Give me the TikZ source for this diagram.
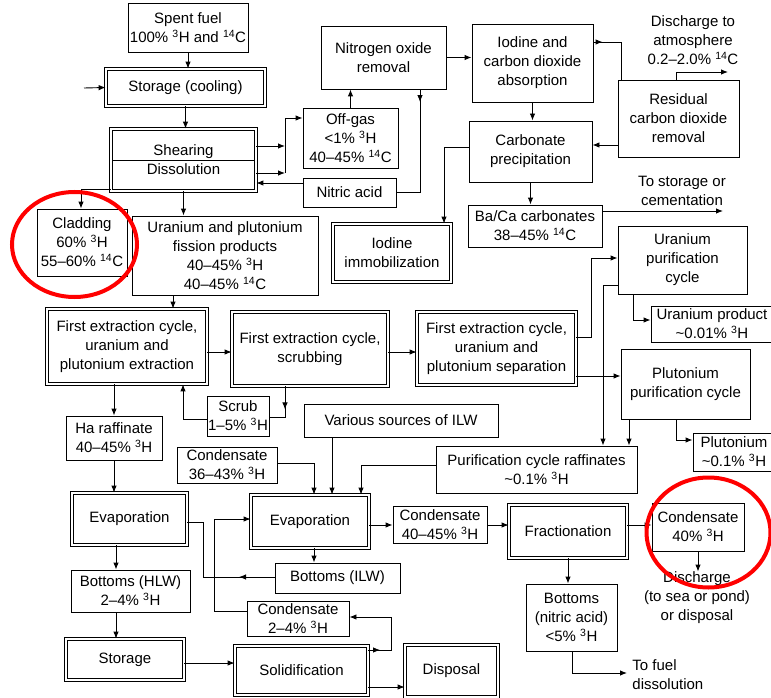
\documentclass[tikz,border=0pt]{standalone}
\usepackage{fontspec}
\setmainfont{Liberation Sans}
\usetikzlibrary{arrows.meta,decorations.markings}
\newcommand{\triH}{\textsuperscript{3}H}
\newcommand{\carbC}{\textsuperscript{14}C}

\begin{document}
\begin{tikzpicture}[x=1pt, y=-1pt, line width=0.9pt,
	every node/.style={font=\fontsize{15}{19}\selectfont, inner sep=0pt, align=center},
	box/.style={draw},
	dbox/.style={draw, double, double distance=2.2pt, line width=0.8pt},
	arr/.style={-{Latex[length=7pt,width=5.5pt]}},
	midtip/.style={postaction={decorate}, decoration={markings, mark=at position #1 with {\arrow{Latex[length=7pt,width=5.5pt]}}}},
	ring/.style={red, line width=4pt}]
	\useasboundingbox (0,0) rectangle (771,698);
	% boxes
	\node[box, minimum width=120pt, minimum height=49pt] (fuel) at (188,27.5) {Spent fuel\\100\% \triH{} and \carbC};
	\node[dbox, minimum width=159pt, minimum height=37pt] (storc) at (185.5,87.5) {Storage (cooling)};
	\node[dbox, minimum width=145pt, minimum height=62pt] (shear) at (183.5,160) {Shearing\\Dissolution};
	\node[box, minimum width=95pt, minimum height=60pt] (offgas) at (350.5,138) {Off-gas\\<1\% \triH\\40--45\% \carbC};
	\node[box, minimum width=93pt, minimum height=29pt] (nitric) at (349.5,192.5) {Nitric acid};
	\node[box, minimum width=125pt, minimum height=63pt] (nox) at (383.5,57.5) {Nitrogen oxide\\removal};
	\node[box, minimum width=121pt, minimum height=78pt] (iodabs) at (532.5,63) {Iodine and\\carbon dioxide\\absorption};
	\node[box, minimum width=123pt, minimum height=61pt] (carb) at (530.5,151.5) {Carbonate\\precipitation};
	\node[box, minimum width=121pt, minimum height=77pt] (resid) at (678.5,118.5) {Residual\\carbon dioxide\\removal};
	\node (atmtxt) at (693,40) {Discharge to\\atmosphere\\0.2--2.0\% \carbC};
	\node[dbox, minimum width=118pt, minimum height=58pt] (iodimm) at (392,253) {Iodine\\immobilization};
	\node[box, minimum width=134pt, minimum height=42pt] (baca) at (535,226) {Ba/Ca carbonates\\38--45\% \carbC};
	\node (cemtxt) at (682,191) {To storage or\\cementation};
	\node[box, minimum width=90pt, minimum height=67pt] (clad) at (82,242.5) {Cladding\\60\% \triH\\55--60\% \carbC};
	\node[box, minimum width=186pt, minimum height=79pt] (upfp) at (225,255.5) {Uranium and plutonium\\fission products\\40--45\% \triH\\40--45\% \carbC};
	\node[dbox, minimum width=160pt, minimum height=75pt] (extr) at (127,346.5) {First extraction cycle,\\uranium and\\plutonium extraction};
	\node[dbox, minimum width=156pt, minimum height=74pt] (scrubbing) at (310,349) {First extraction cycle,\\scrubbing};
	\node[dbox, minimum width=159pt, minimum height=73pt] (separ) at (496.5,348.5) {First extraction cycle,\\uranium and\\plutonium separation};
	\node[box, minimum width=129pt, minimum height=68pt] (upur) at (682.5,260) {Uranium\\purification\\cycle};
	\node[box, minimum width=122pt, minimum height=36pt] (uprod) at (712,324) {Uranium product\\\textasciitilde0.01\% \triH};
	\node[box, minimum width=129pt, minimum height=70pt] (pupur) at (685.5,384) {Plutonium\\purification cycle};
	\node[box, minimum width=82pt, minimum height=38pt] (puprod) at (734,452) {Plutonium\\\textasciitilde0.1\% \triH};
	\node[box, minimum width=201pt, minimum height=47pt] (raff) at (536.5,469.5) {Purification cycle raffinates\\\textasciitilde0.1\% \triH};
	\node[box, minimum width=62pt, minimum height=40pt] (scrub) at (238,416) {Scrub\\1--5\% \triH};
	\node[box, minimum width=96pt, minimum height=44pt] (haraf) at (114,438) {Ha raffinate\\40--45\% \triH};
	\node[box, minimum width=100pt, minimum height=36pt] (condA) at (227,465) {Condensate\\36--43\% \triH};
	\node[box, minimum width=194pt, minimum height=33pt] (ilw) at (401,420.5) {Various sources of ILW};
	\node[dbox, minimum width=115pt, minimum height=52pt] (evapH) at (129.5,519) {Evaporation};
	\node[dbox, minimum width=118pt, minimum height=53pt] (evapI) at (310,521.5) {Evaporation};
	\node[box, minimum width=94pt, minimum height=37pt] (condB) at (440,524.5) {Condensate\\40--45\% \triH};
	\node[dbox, minimum width=118pt, minimum height=53pt] (fract) at (568,531.5) {Fractionation};
	\node[box, minimum width=92pt, minimum height=48pt] (condC) at (698,527) {Condensate\\40\% \triH};
	\node (seatxt) at (697,598) {Discharge\\(to sea or pond)\\or disposal};
	\node[box, minimum width=119pt, minimum height=42pt] (botH) at (130.5,591) {Bottoms (HLW)\\2--4\% \triH};
	\node[box, minimum width=125pt, minimum height=30pt] (botI) at (337.5,578) {Bottoms (ILW)};
	\node[box, minimum width=102pt, minimum height=35pt] (condD) at (298,618.5) {Condensate\\2--4\% \triH};
	\node[box, minimum width=91pt, minimum height=67pt] (botN) at (571.5,617.5) {Bottoms\\(nitric acid)\\<5\% \triH};
	\node[align=left, anchor=west] (fueltxt) at (632,674.5) {To fuel\\dissolution};
	\node[dbox, minimum width=118pt, minimum height=41pt] (stor) at (125,659.5) {Storage};
	\node[dbox, minimum width=133pt, minimum height=49pt] (solid) at (301.5,670.5) {Solidification};
	\node[dbox, minimum width=93pt, minimum height=52pt] (disp) at (451.5,671) {Disposal};
	\draw ([xshift=2pt]shear.west) -- ([xshift=-2pt]shear.east);
	% bend points
	\coordinate (feed) at (84,88);
	\coordinate (sa) at (285,146);
	\coordinate (sb) at (285,173);
	\coordinate (sc) at (285,118);
	\coordinate (na) at (0,183);
	\coordinate (nb) at (420,192);
	\coordinate (ia) at (621,42);
	\coordinate (ra) at (676,72);
	\coordinate (atm) at (728,72);
	\coordinate (rb) at (0,145);
	\coordinate (ca) at (444,147);
	\coordinate (cem) at (723,211);
	\coordinate (cl) at (81,189);
	\coordinate (ua) at (173,0);
	\coordinate (ea) at (0,352);
	\coordinate (sd) at (285,417);
	\coordinate (se) at (183,419);
	\coordinate (pa) at (591,337);
	\coordinate (pb) at (591,258);
	\coordinate (pc) at (0,376);
	\coordinate (ub) at (633,320);
	\coordinate (uc) at (603,285);
	\coordinate (pd) at (629,0);
	\coordinate (pe) at (676,440);
	\coordinate (fa) at (361,465);
	\coordinate (va) at (332,0);
	\coordinate (cb) at (314,463);
	\coordinate (fb) at (0,525);
	\coordinate (bn) at (572,673);
	\coordinate (tofuel) at (627,673);
	\coordinate (ha) at (116,0);
	\coordinate (sg) at (0,663);
	\coordinate (sh) at (0,687);
	\coordinate (da) at (391,650);
	\coordinate (db) at (391,617);
	\coordinate (ba) at (203,577);
	\coordinate (bb) at (203,522);
	\coordinate (ka) at (214,611);
	\coordinate (kb) at (214,519);
	% flows
	\draw[arr] (fuel.south) -- (fuel.south |- storc.north);
	\draw[arr] (feed) -- (storc.west);
	\draw[arr] (storc.south) -- (storc.south |- shear.north);
	\draw[arr] (shear.east |- sa) -- (sa);
	\draw[arr] (shear.east |- sb) -- (sb);
	\draw[arr] (sb) -- (sc) -- (offgas.west |- sc);
	\draw[arr] (nitric.west |- na) -- (shear.east |- na);
	\draw[midtip=0.1] (nox.south -| nb) -- (nb) -- (nitric.east |- nb);
	\draw[arr] (offgas.north) -- (offgas.north |- nox.south);
	\draw[arr] (nox.east) -- (nox.east -| iodabs.west);
	\draw[arr] (iodabs.south) -- (iodabs.south |- carb.north);
	\draw[midtip=0.14] (iodabs.east |- ia) -- (ia) -- (ia |- resid.north);
	\draw[arr] (resid.north -| ra) -- (ra) -- (atm);
	\draw[arr] (resid.west |- rb) -- (carb.east |- rb);
	\draw[arr] (carb.west |- ca) -- (ca) -- (ca |- iodimm.north);
	\draw[arr] (carb.south) -- (carb.south |- baca.north);
	\draw[arr] (baca.east |- cem) -- (cem);
	\draw[arr] (shear.south) -- (shear.south |- upfp.north);
	\draw[arr] (shear.west |- cl) -- (cl) -- (cl |- clad.north);
	\draw[arr] (upfp.south -| ua) -- (extr.north -| ua);
	\draw[arr] (extr.east |- ea) -- (scrubbing.west |- ea);
	\draw[arr] (scrubbing.east |- ea) -- (separ.west |- ea);
	\draw[midtip=0.5] (scrubbing.south -| sd) -- (sd) -- (scrub.east |- sd);
	\draw[arr] (scrub.west |- se) -- (se) -- (se |- extr.south);
	\draw[arr] (haraf.north |- extr.south) -- (haraf.north);
	\draw[arr] (haraf.south) -- (haraf.south |- evapH.north);
	\draw[arr] (separ.east |- pa) -- (pa) -- (pb) -- (upur.west |- pb);
	\draw[arr] (separ.east |- pc) -- (pupur.west |- pc);
	\draw[arr] (upur.south -| ub) -- (ub) -- (uprod.west |- ub);
	\draw[arr] (upur.west |- uc) -- (uc) -- (uc |- raff.north);
	\draw[arr] (pupur.south -| pd) -- (raff.north -| pd);
	\draw[arr] (pupur.south -| pe) -- (pe) -- (puprod.west |- pe);
	\draw[arr] (raff.west |- fa) -- (fa) -- (fa |- evapI.north);
	\draw[arr] (ilw.south -| va) -- (evapI.north -| va);
	\draw[arr] (condA.east |- cb) -- (cb) -- (cb |- evapI.north);
	\draw[arr] (evapI.east |- fb) -- (condB.west |- fb);
	\draw[arr] (condB.east |- fb) -- (fract.west |- fb);
	\draw[arr] (fract.east |- fb) -- (condC.west |- fb);
	\draw[arr] (condC.south) -- (condC.south |- seatxt.north);
	\draw[arr] (fract.south) -- (fract.south |- botN.north);
	\draw[arr] (botN.south -| bn) -- (bn) -- (tofuel);
	\draw[arr] (evapH.south -| ha) -- (botH.north -| ha);
	\draw[arr] (botH.south -| ha) -- (stor.north -| ha);
	\draw[arr] (evapI.south -| cb) -- (botI.north -| cb);
	\draw[arr] (stor.east |- sg) -- (solid.west |- sg);
	\draw[arr] (solid.east |- sh) -- (disp.west |- sh);
	\draw[arr, midtip=0.12] (solid.east |- da) -- (da) -- (db) -- (condD.east |- db);
	\draw[midtip=0.25] (botI.west |- ba) -- (ba) -- (bb) -- (evapH.east |- bb);
	\draw[arr] (condD.west |- ka) -- (ka) -- (kb) -- (evapI.west |- kb);
	% red rings
	\draw[ring] (74.5,244.5) ellipse [x radius=62.5pt, y radius=52.5pt];
	\draw[ring] (708.5,532.5) ellipse [x radius=62pt, y radius=55pt];
\end{tikzpicture}
\end{document}
